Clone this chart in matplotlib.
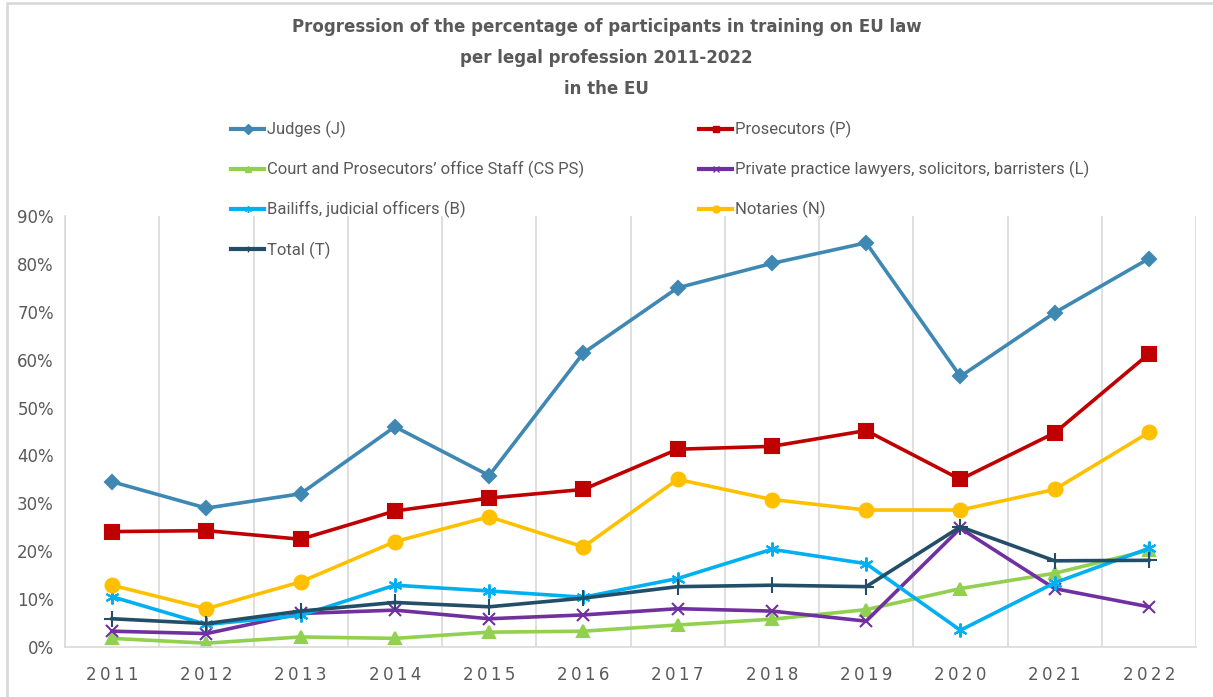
import matplotlib
matplotlib.use("Agg")
import matplotlib.pyplot as plt
from matplotlib.lines import Line2D
from matplotlib.ticker import FuncFormatter

# data (percent of participants)
years = ["2011", "2012", "2013", "2014", "2015", "2016",
         "2017", "2018", "2019", "2020", "2021", "2022"]
judges = [34.5, 29.0, 32.0, 46.0, 35.8, 61.4, 75.0, 80.1, 84.4, 56.5, 69.8, 81.1]
prosecutors = [24.1, 24.3, 22.5, 28.4, 31.1, 32.9, 41.3, 41.9, 45.2, 35.0, 44.7, 61.2]
staff = [1.8, 0.8, 2.1, 1.8, 3.1, 3.3, 4.6, 5.8, 7.8, 12.2, 15.4, 20.2]
lawyers = [3.3, 2.8, 7.0, 7.7, 5.9, 6.7, 8.0, 7.5, 5.4, 24.8, 12.2, 8.4]
bailiffs = [10.5, 4.7, 6.6, 12.9, 11.7, 10.4, 14.3, 20.4, 17.4, 3.5, 13.4, 20.6]
notaries = [12.9, 8.0, 13.6, 22.0, 27.2, 20.9, 35.0, 30.8, 28.6, 28.6, 32.9, 44.8]
total = [5.9, 4.9, 7.5, 9.3, 8.4, 10.2, 12.6, 12.9, 12.6, 25.1, 18.0, 18.1]

series = [
    ("Judges (J)", judges, "#3f88b3", "D", 7),
    ("Prosecutors (P)", prosecutors, "#c00000", "s", 10),
    ("Court and Prosecutors\u2019 office Staff (CS PS)", staff, "#92d050", "^", 9),
    ("Private practice lawyers, solicitors, barristers (L)", lawyers, "#7030a0", "x", 9),
    ("Bailiffs, judicial officers (B)", bailiffs, "#00b0f0", (6, 2, 0), 10),
    ("Notaries (N)", notaries, "#ffc000", "o", 10),
    ("Total (T)", total, "#234e68", "+", 11),
]

grey = "#595959"
fig = plt.figure(figsize=(12.13, 6.97), dpi=100)
ax = fig.add_axes([65 / 1213, 1 - 647 / 697, (1196 - 65) / 1213, (647 - 216) / 697])

x = range(len(years))
for name, vals, col, mk, ms in series:
    ax.plot(x, vals, color=col, lw=2.6, marker=mk, markersize=ms,
            markeredgewidth=1.5, markeredgecolor=col, markerfacecolor=col)

ax.set_xlim(-0.5, len(years) - 0.5)
ax.set_ylim(0, 90)
ax.set_yticks(range(0, 91, 10))
ax.yaxis.set_major_formatter(FuncFormatter(lambda v, p: f"{v:.0f}%"))
ax.set_xticks(list(x))
# Excel draws the years with wide tracking
ax.set_xticklabels(["\u2009".join(y) for y in years])
ax.set_xticks([i - 0.5 for i in range(len(years) + 1)], minor=True)
ax.grid(True, axis="x", which="minor", color="#d9d9d9", lw=1.2)
ax.tick_params(axis="both", which="both", length=0, colors=grey, labelsize=12)
ax.tick_params(axis="x", pad=14)
ax.tick_params(axis="y", pad=8)
for side in ["top", "right"]:
    ax.spines[side].set_visible(False)
for side in ["left", "bottom"]:
    ax.spines[side].set_color("#d9d9d9")
    ax.spines[side].set_linewidth(1.2)

# legend in two columns, filled row by row like Excel
handles = [Line2D([], [], color=col, lw=3, marker=mk, markersize=5,
                  markeredgecolor=col, markerfacecolor=col)
           for name, vals, col, mk, ms in series]
labels = [s[0] for s in series]
order = [0, 2, 4, 6, 1, 3, 5]
leg = fig.legend([handles[i] for i in order], [labels[i] for i in order],
                 ncol=2, loc="upper left",
                 bbox_to_anchor=(216 / 1213, 1 - 106 / 697), frameon=False,
                 prop={"family": "Roboto", "size": 12}, labelcolor=grey,
                 handlelength=2.0, handletextpad=0.15, columnspacing=6.9,
                 labelspacing=1.37)

fig.text(0.5, 1 - 58 / 697,
         "Progression of the percentage of participants in training on EU law\n"
         "per legal profession 2011-2022\nin the EU",
         ha="center", va="center", fontsize=12, fontweight="bold",
         color=grey, linespacing=1.95)

# chart border (top and left edges)
fig.add_artist(Line2D([7 / 1213, 7 / 1213, 1], [0, 1 - 3 / 697, 1 - 3 / 697],
                      color="#d9d9d9", lw=2))

fig.savefig("out.png", dpi=100)
